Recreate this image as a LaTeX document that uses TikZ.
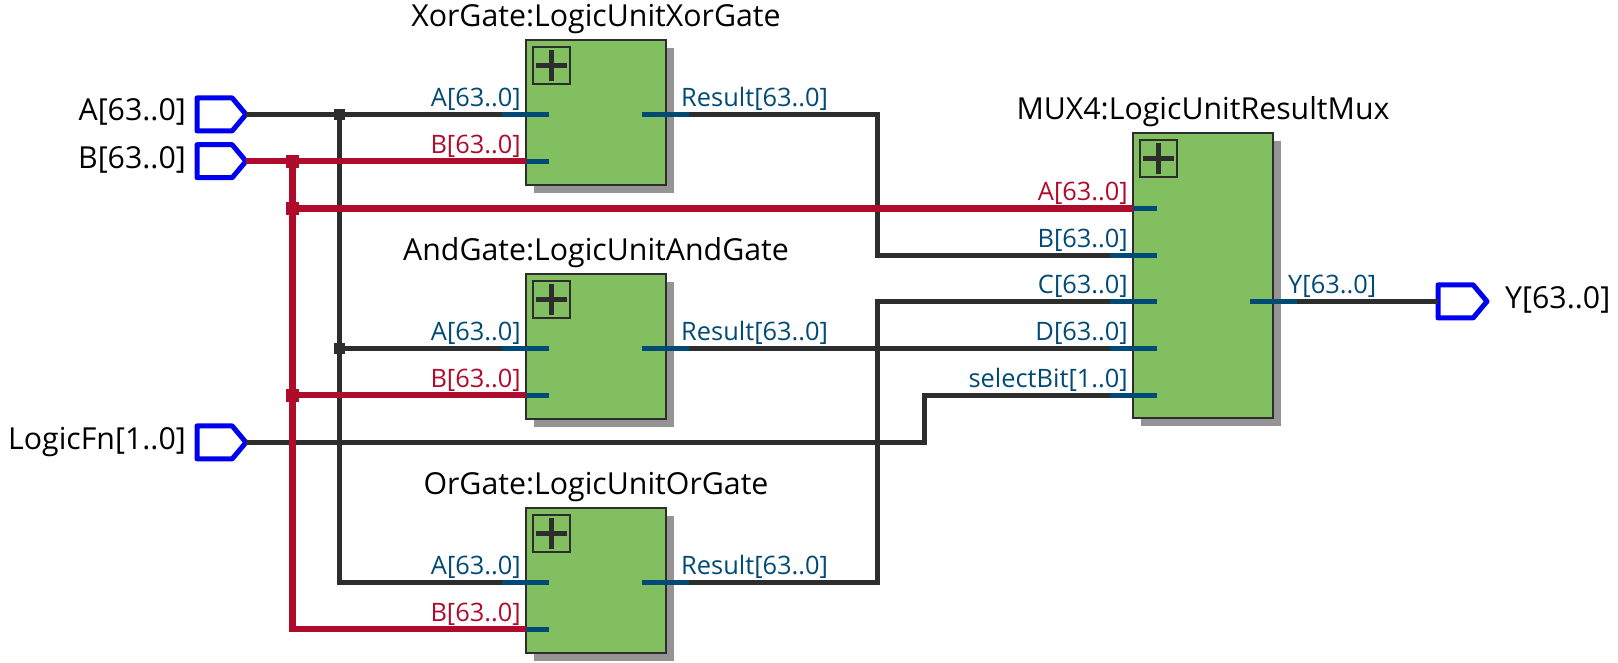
\documentclass[tikz,border=0pt]{standalone}
\usepackage{fontspec}
\setmainfont{Open Sans}
\usetikzlibrary{positioning,shadows,shapes.symbols}
\definecolor{boxgreen}{HTML}{82BF60}
\definecolor{wireblack}{HTML}{2D2D2D}
\definecolor{busred}{HTML}{AF0C2C}
\definecolor{stubblue}{HTML}{004A75}
\definecolor{pinblue}{HTML}{0000F0}
\tikzset{
    blockbox/.style={draw=wireblack, line width=2.5pt, fill=boxgreen, anchor=north west,
        minimum width=140pt, minimum height=145pt, inner sep=0pt, outer sep=0pt,
        drop shadow={shadow xshift=8pt, shadow yshift=-8pt, fill=black!42, opacity=1}},
    plusbox/.style={draw=wireblack, line width=2pt, minimum size=37pt, inner sep=0pt, outer sep=0pt},
    ioport/.style={draw=pinblue, line width=5pt, fill=white, line join=round, shape=signal,
        signal to=east, signal pointer angle=100, minimum width=49pt, minimum height=33pt,
        inner sep=0pt, outer sep=0pt},
    title/.style={font=\fontsize{30.3}{33}\selectfont, text=black, inner sep=0pt},
    portblue/.style={font=\fontsize{25.4}{28}\selectfont, text=stubblue, inner sep=0pt},
    portred/.style={portblue, text=busred},
    wire/.style={draw=wireblack, line width=5pt},
    bus/.style={draw=busred, line width=6.5pt},
    stub/.style={draw=stubblue, line width=4.7pt},
    dotnode/.style={fill=wireblack, minimum size=11pt, inner sep=0pt, outer sep=0pt},
    reddot/.style={fill=busred, minimum size=13pt, inner sep=0pt, outer sep=0pt}
}
\begin{document}
\begin{tikzpicture}[x=1pt, y=-1pt]
    \useasboundingbox (0,0) rectangle (1618,663);

    % blocks
    \node[blockbox] (xor) at (526,40) {};
    \node[blockbox] (and) at (526,274) {};
    \node[blockbox] (or) at (526,508) {};
    \node[blockbox, minimum height=285pt] (mux) at (1133,133) {};

    % titles
    \node[title, above=6pt of xor] (xortitle) {XorGate:LogicUnitXorGate};
    \node[title, above=6pt of and] (andtitle) {AndGate:LogicUnitAndGate};
    \node[title, above=6pt of or] (ortitle) {OrGate:LogicUnitOrGate};
    \node[title, above=6pt of mux] (muxtitle) {MUX4:LogicUnitResultMux};

    % plus squares
    \foreach \b in {xor,and,or,mux} {
        \node[plusbox, anchor=north west] (\b plus) at ([shift={(7,7)}]\b.north west) {};
        \draw[wire, line width=5pt] ([xshift=-15.5pt]\b plus.center) -- ([xshift=15.5pt]\b plus.center);
        \draw[wire, line width=5pt] ([yshift=-15.5pt]\b plus.center) -- ([yshift=15.5pt]\b plus.center);
    }

    % pins of the three gates
    \foreach \b in {xor,and,or} {
        \coordinate (\b A) at ([yshift=-74.4pt]\b.north west);
        \coordinate (\b B) at ([yshift=-121.2pt]\b.north west);
        \coordinate (\b R) at ([yshift=-74.4pt]\b.north east);
    }
    % pins of the mux
    \foreach \p/\d in {A/75.4, B/122.3, C/168.4, D/215.4, S/262.2} {
        \coordinate (mux\p) at ([yshift=-\d pt]mux.north west);
    }
    \coordinate (muxY) at ([yshift=-168.4pt]mux.north east);

    % top level ports
    \node[ioport, anchor=west] (pinA) at (197,114.4) {};
    \node[ioport, anchor=west] (pinB) at (197,161.2) {};
    \node[ioport, anchor=west] (pinFn) at (197,442.4) {};
    \node[ioport, anchor=west] (pinY) at (1438,301.4) {};
    \node[title, anchor=east] (pinAtext) at (186,112) {A[63..0]};
    \node[title, anchor=east] (pinBtext) at (186,160) {B[63..0]};
    \node[title, anchor=east] (pinFntext) at (186,442) {LogicFn[1..0]};
    \node[title, anchor=west] (pinYtext) at (1505,300) {Y[63..0]};

    % bend points
    \coordinate (tapA) at (339,114.4);
    \coordinate (tapAand) at (339,348.4);
    \coordinate (tapB) at (292.5,161.2);
    \coordinate (tapBmux) at (292.5,208.4);
    \coordinate (tapBand) at (292.5,395.2);
    \coordinate (xorup) at (877,114.4);
    \coordinate (orup) at (877,301.4);
    \coordinate (fnup) at (924,442.4);

    % black nets
    \draw[wire] (pinA.east) -- (xorA);
    \draw[wire] (tapA) -- (tapA |- orA) -- (orA);
    \draw[wire] (tapAand) -- (andA);
    \draw[wire] (xorR) -- (xorup) |- (muxB);
    \draw[wire] (andR) -- (muxD);
    \draw[wire] (orR) -| (orup) -- (muxC);
    \draw[wire] (pinFn.east) -- (fnup) |- (muxS);
    \draw[wire] (muxY) -- (pinY.west);
    \node[dotnode] (dotA) at (tapA) {};
    \node[dotnode] (dotAand) at (tapAand) {};

    % red nets
    \draw[bus] (pinB.east) -- (xorB);
    \draw[bus] (tapB) -- (tapB |- orB) -- (orB);
    \draw[bus] (tapBmux) -- (muxA);
    \draw[bus] (tapBand) -- (andB);
    \foreach \c in {tapB,tapBmux,tapBand} {
        \node[reddot] (dot\c) at (\c) {};
    }

    % blue stubs on the pins
    \foreach \b in {xor,and,or} {
        \draw[stub] ([xshift=-24pt]\b A) -- ([xshift=23pt]\b A);
        \draw[stub] (\b B) -- ([xshift=23pt]\b B);
        \draw[stub] ([xshift=-24pt]\b R) -- ([xshift=23pt]\b R);
        \node[portblue, above left=3.5pt and 5pt of \b A] (\b Atext) {A[63..0]};
        \node[portred, above left=3.5pt and 5pt of \b B] (\b Btext) {B[63..0]};
        \node[portblue, above right=3.5pt and 15pt of \b R] (\b Rtext) {Result[63..0]};
    }
    \draw[stub] (muxA) -- ([xshift=24pt]muxA);
    \foreach \p in {B,C,D,S} {
        \draw[stub] ([xshift=-23pt]mux\p) -- ([xshift=24pt]mux\p);
    }
    \draw[stub] ([xshift=-23pt]muxY) -- ([xshift=24pt]muxY);
    \node[portred, above left=3.5pt and 5pt of muxA] (muxAtext) {A[63..0]};
    \node[portblue, above left=3.5pt and 5pt of muxB] (muxBtext) {B[63..0]};
    \node[portblue, above left=3.5pt and 5pt of muxC] (muxCtext) {C[63..0]};
    \node[portblue, above left=3.5pt and 5pt of muxD] (muxDtext) {D[63..0]};
    \node[portblue, above left=3.5pt and 5pt of muxS] (muxStext) {selectBit[1..0]};
    \node[portblue, above right=3.5pt and 15pt of muxY] (muxYtext) {Y[63..0]};
\end{tikzpicture}
\end{document}
